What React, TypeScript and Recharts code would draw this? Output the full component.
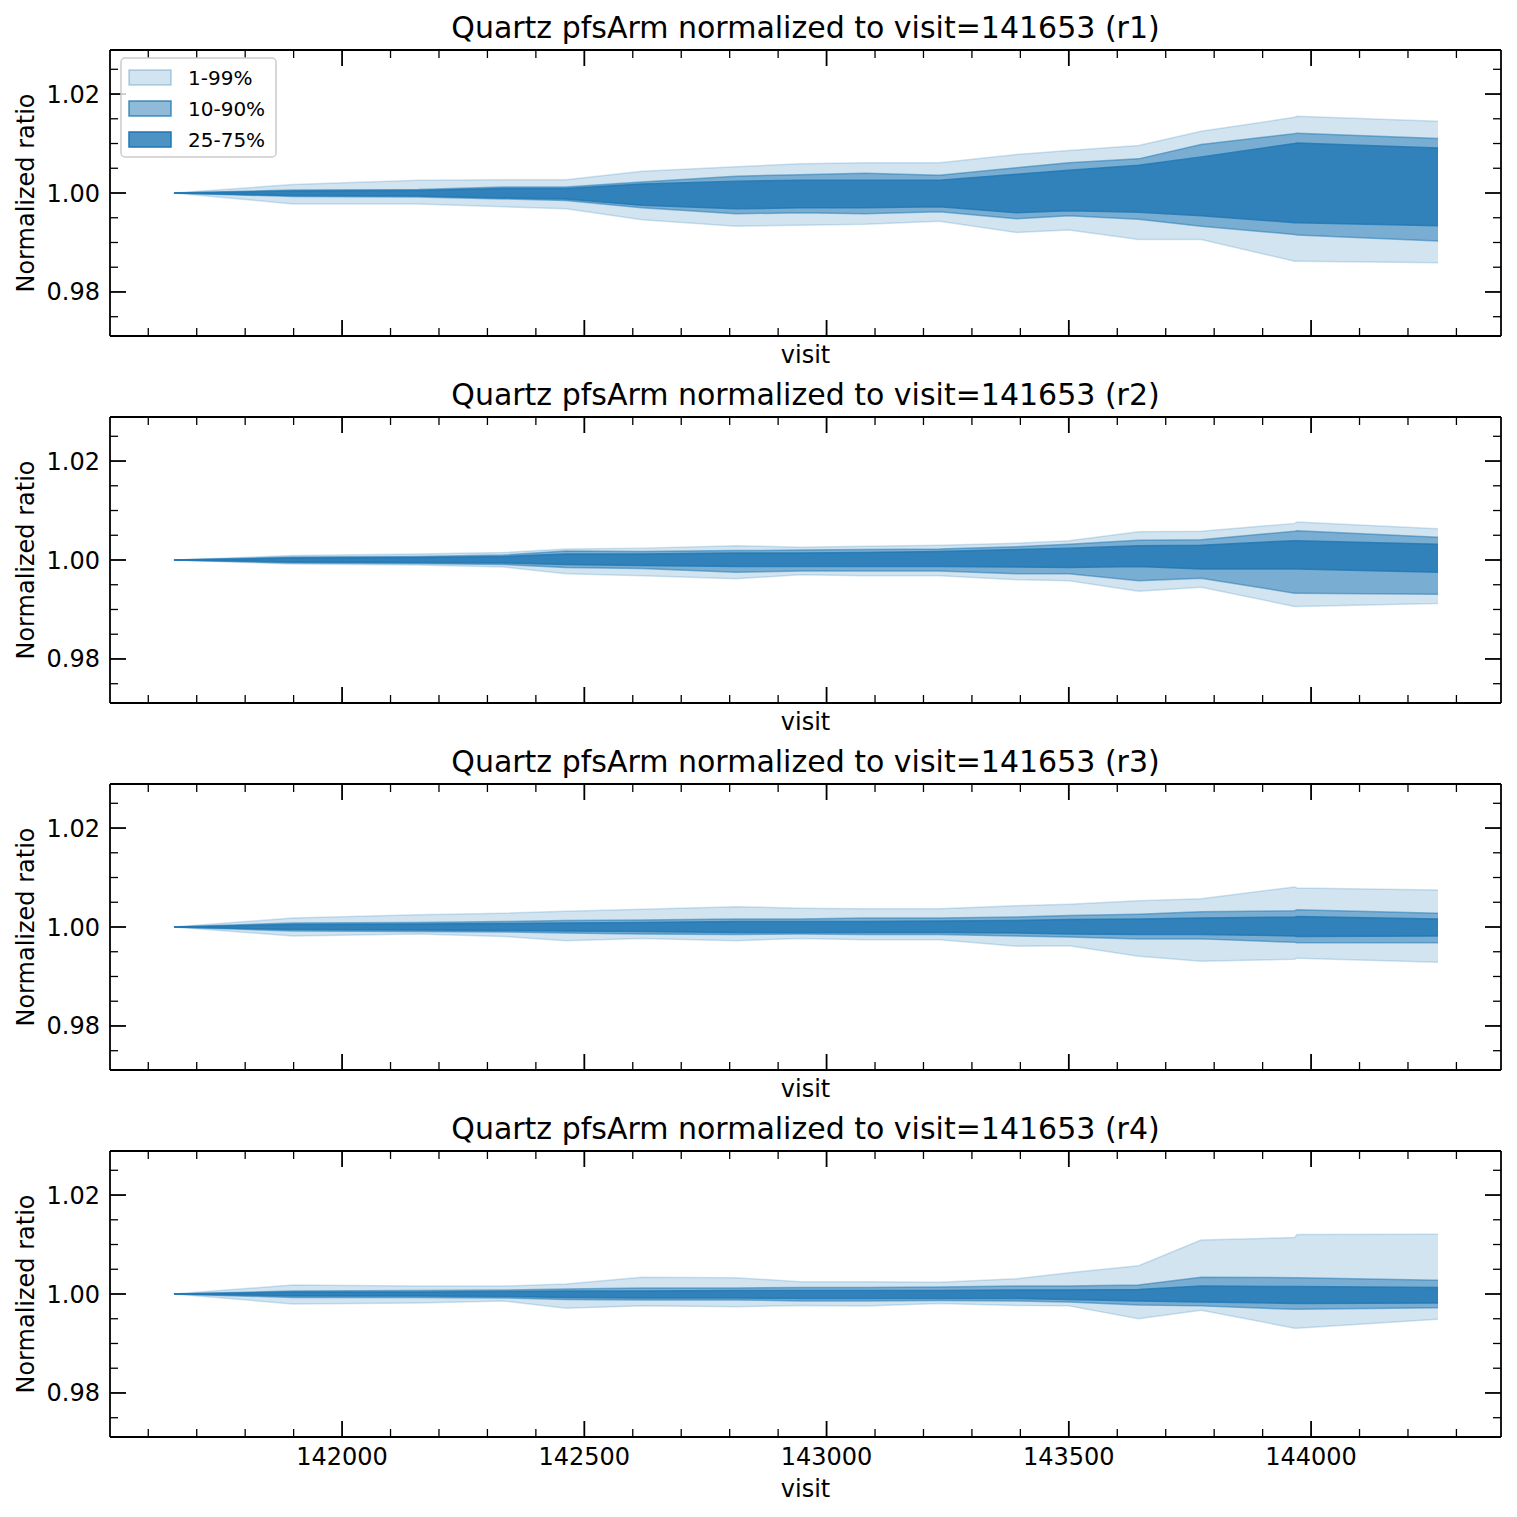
import React from "react";
import { Area, ComposedChart, XAxis, YAxis } from "recharts";

// visits along the x axis
const visits = [
  141653, 141898, 142157, 142333, 142462, 142619, 142813, 142946, 143079,
  143233, 143392, 143500, 143644, 143773, 143966, 143971, 144262,
];

// r1 percentiles
const r1P01 = [1.0, 0.9978, 0.9978, 0.9972, 0.9968, 0.9946, 0.9933, 0.9935, 0.9937, 0.9943, 0.992, 0.9925, 0.9906, 0.9906, 0.9862, 0.9862, 0.9859];
const r1P10 = [1.0, 0.9993, 0.9992, 0.9988, 0.9985, 0.997, 0.9958, 0.996, 0.9958, 0.9962, 0.9948, 0.9954, 0.9947, 0.9933, 0.9916, 0.9915, 0.9903];
const r1P25 = [1.0, 0.9995, 0.9994, 0.999, 0.9988, 0.9975, 0.9968, 0.997, 0.997, 0.9972, 0.996, 0.9964, 0.9961, 0.9954, 0.994, 0.994, 0.9934];
const r1P75 = [1.0, 1.0004, 1.0005, 1.0009, 1.0009, 1.0018, 1.0024, 1.0026, 1.0026, 1.0026, 1.0038, 1.0046, 1.0056, 1.0073, 1.01, 1.0101, 1.0091];
const r1P90 = [1.0, 1.0006, 1.0007, 1.0012, 1.0012, 1.0022, 1.0034, 1.0037, 1.004, 1.0036, 1.0051, 1.0061, 1.0069, 1.0098, 1.012, 1.0121, 1.011];
const r1P99 = [1.0, 1.0017, 1.0026, 1.0027, 1.0027, 1.0044, 1.0053, 1.0059, 1.0061, 1.0061, 1.0078, 1.0086, 1.0096, 1.0125, 1.0153, 1.0155, 1.0145];

// r2 percentiles
const r2P01 = [1.0, 0.9992, 0.999, 0.9986, 0.9972, 0.9968, 0.9962, 0.997, 0.9968, 0.9968, 0.996, 0.9958, 0.9937, 0.9945, 0.9906, 0.9906, 0.9912];
const r2P10 = [1.0, 0.9994, 0.9993, 0.9991, 0.9985, 0.9983, 0.9975, 0.9978, 0.9978, 0.9978, 0.9972, 0.9972, 0.9958, 0.9963, 0.9933, 0.9933, 0.9931];
const r2P25 = [1.0, 0.9996, 0.9995, 0.9994, 0.9991, 0.9989, 0.9987, 0.9987, 0.9987, 0.9987, 0.9986, 0.9985, 0.9987, 0.9982, 0.9982, 0.9982, 0.9975];
const r2P75 = [1.0, 1.0004, 1.0005, 1.0007, 1.0012, 1.0012, 1.0014, 1.0014, 1.0015, 1.0017, 1.0021, 1.0024, 1.0029, 1.003, 1.0039, 1.0039, 1.0032];
const r2P90 = [1.0, 1.0006, 1.0007, 1.001, 1.0018, 1.0017, 1.0019, 1.002, 1.0021, 1.0022, 1.0027, 1.0032, 1.004, 1.0041, 1.0058, 1.0059, 1.0046];
const r2P99 = [1.0, 1.0009, 1.0012, 1.0015, 1.0022, 1.0024, 1.0029, 1.0026, 1.0028, 1.003, 1.0034, 1.0039, 1.0057, 1.0058, 1.0074, 1.0077, 1.0063];

// r3 percentiles
const r3P01 = [1.0, 0.9982, 0.9986, 0.9981, 0.9972, 0.9977, 0.9972, 0.9977, 0.9974, 0.9974, 0.9961, 0.9962, 0.9941, 0.9931, 0.9935, 0.9937, 0.9929];
const r3P10 = [1.0, 0.9992, 0.9991, 0.999, 0.9988, 0.9986, 0.9985, 0.9986, 0.9985, 0.9985, 0.9982, 0.998, 0.9976, 0.9976, 0.9969, 0.9968, 0.9968];
const r3P25 = [1.0, 0.9995, 0.9994, 0.9993, 0.9992, 0.9991, 0.9989, 0.9989, 0.9989, 0.9989, 0.9988, 0.9986, 0.9985, 0.9985, 0.9982, 0.9981, 0.9982];
const r3P75 = [1.0, 1.0005, 1.0006, 1.0007, 1.0008, 1.0009, 1.0011, 1.0011, 1.0011, 1.0012, 1.0013, 1.0015, 1.0016, 1.0018, 1.002, 1.0021, 1.0016];
const r3P90 = [1.0, 1.0008, 1.0009, 1.0011, 1.0013, 1.0014, 1.0016, 1.0016, 1.0018, 1.0018, 1.002, 1.0023, 1.0026, 1.0031, 1.0033, 1.0035, 1.0028];
const r3P99 = [1.0, 1.0018, 1.0025, 1.0028, 1.0032, 1.0036, 1.0041, 1.0038, 1.0037, 1.0037, 1.0043, 1.0046, 1.0053, 1.0057, 1.0081, 1.0079, 1.0075];

// r4 percentiles
const r4P01 = [1.0, 0.998, 0.9982, 0.9986, 0.9971, 0.9976, 0.9974, 0.9977, 0.9976, 0.9981, 0.9977, 0.9976, 0.995, 0.9967, 0.9931, 0.9931, 0.9949];
const r4P10 = [1.0, 0.9993, 0.9993, 0.9992, 0.9989, 0.9988, 0.9988, 0.9986, 0.9986, 0.9987, 0.9986, 0.9984, 0.9978, 0.9976, 0.9969, 0.9969, 0.9972];
const r4P25 = [1.0, 0.9996, 0.9996, 0.9995, 0.9993, 0.9992, 0.9992, 0.9991, 0.9991, 0.9991, 0.9991, 0.9989, 0.9986, 0.9984, 0.9981, 0.9981, 0.9982];
const r4P75 = [1.0, 1.0004, 1.0004, 1.0005, 1.0006, 1.0006, 1.0007, 1.0007, 1.0007, 1.0007, 1.0008, 1.0008, 1.0009, 1.0016, 1.0015, 1.0015, 1.0013];
const r4P90 = [1.0, 1.0006, 1.0007, 1.0008, 1.001, 1.0012, 1.0012, 1.0013, 1.0013, 1.0014, 1.0016, 1.0016, 1.0018, 1.0034, 1.0033, 1.0033, 1.0028];
const r4P99 = [1.0, 1.0018, 1.0016, 1.0016, 1.002, 1.0034, 1.0033, 1.0025, 1.0025, 1.0024, 1.0031, 1.0043, 1.0057, 1.0109, 1.0114, 1.012, 1.0121];

const armNames = ["r1", "r2", "r3", "r4"];
const bandLabels = ["1-99%", "10-90%", "25-75%"];

// ticks: majors every 500 / 0.02, minors every 100 / 0.005
const xTicks = [
  141600, 141700, 141800, 141900, 142000, 142100, 142200, 142300, 142400,
  142500, 142600, 142700, 142800, 142900, 143000, 143100, 143200, 143300,
  143400, 143500, 143600, 143700, 143800, 143900, 144000, 144100, 144200,
  144300,
];
const yTicks = [0.975, 0.98, 0.985, 0.99, 0.995, 1.0, 1.005, 1.01, 1.015, 1.02, 1.025];

const panels = [
  [r1P01, r1P10, r1P25, r1P75, r1P90, r1P99],
  [r2P01, r2P10, r2P25, r2P75, r2P90, r2P99],
  [r3P01, r3P10, r3P25, r3P75, r3P90, r3P99],
  [r4P01, r4P10, r4P25, r4P75, r4P90, r4P99],
];

const BLUE = "#1f77b4";
const FONT = "DejaVu Sans, sans-serif";
const W = 1517;
const PLOT_TOP = 50;
const PLOT_H = 286;
const STEP = 367;
const LEFT = 110;
const RIGHT = 1501;
const X_DOMAIN = [141521, 144392];
const Y_DOMAIN = [0.9711, 1.0289];
const alphas = [0.2, 0.5, 0.8];

const isMajorX = (v: number) => v % 500 === 0;
const isMajorY = (v: number) => Math.round(v * 1000) % 20 === 0;

const makeXTick = (side: "top" | "bottom", labels: boolean) => (props: any) => {
  const { x, y, payload } = props;
  const major = isMajorX(payload.value);
  const len = major ? 16 : 8;
  const dir = side === "bottom" ? -1 : 1;
  return (
    <g>
      <line x1={x} x2={x} y1={y} y2={y + dir * len} stroke="#000" strokeWidth={major ? 1.8 : 1.3} />
      {labels && major && (
        <text x={x} y={y + 28} textAnchor="middle" fontSize={24} fontFamily={FONT} fill="#000">
          {payload.value}
        </text>
      )}
    </g>
  );
};

const makeYTick = (side: "left" | "right") => (props: any) => {
  const { x, y, payload } = props;
  const major = isMajorY(payload.value);
  const len = major ? 16 : 8;
  const dir = side === "left" ? 1 : -1;
  return (
    <g>
      <line x1={x} x2={x + dir * len} y1={y} y2={y} stroke="#000" strokeWidth={major ? 1.8 : 1.3} />
      {side === "left" && major && (
        <text x={x - 10} y={y + 8.5} textAnchor="end" fontSize={24} fontFamily={FONT} fill="#000">
          {payload.value.toFixed(2)}
        </text>
      )}
    </g>
  );
};

const Panel = ({ index }: { index: number }) => {
  const [p01, p10, p25, p75, p90, p99] = panels[index];
  const data = visits.map((visit, i) => ({
    visit,
    outer: [p01[i], p99[i]],
    mid: [p10[i], p90[i]],
    inner: [p25[i], p75[i]],
  }));
  const last = index === panels.length - 1;
  const height = last ? W - STEP * index : STEP;
  const axisLine = { stroke: "#000", strokeWidth: 1.8 };
  // every axis is 1px thick, so the margins leave that pixel out
  return (
    <div style={{ position: "absolute", left: 0, top: STEP * index }}>
      <ComposedChart
        width={W}
        height={height}
        data={data}
        margin={{
          top: PLOT_TOP - 1,
          left: LEFT - 1,
          right: W - RIGHT - 1,
          bottom: height - PLOT_TOP - PLOT_H - 1,
        }}
      >
        <XAxis
          dataKey="visit"
          type="number"
          domain={X_DOMAIN}
          allowDataOverflow
          ticks={xTicks}
          interval={0}
          height={1}
          tickSize={0}
          tickMargin={0}
          tickLine={false}
          axisLine={axisLine}
          tick={makeXTick("bottom", last)}
        />
        <XAxis
          xAxisId="top"
          orientation="top"
          dataKey="visit"
          type="number"
          domain={X_DOMAIN}
          allowDataOverflow
          ticks={xTicks}
          interval={0}
          height={1}
          tickSize={0}
          tickMargin={0}
          tickLine={false}
          axisLine={axisLine}
          tick={makeXTick("top", false)}
        />
        <YAxis
          type="number"
          domain={Y_DOMAIN}
          allowDataOverflow
          ticks={yTicks}
          interval={0}
          width={1}
          tickSize={0}
          tickMargin={0}
          tickLine={false}
          axisLine={axisLine}
          tick={makeYTick("left")}
        />
        <YAxis
          yAxisId="right"
          orientation="right"
          type="number"
          domain={Y_DOMAIN}
          allowDataOverflow
          ticks={yTicks}
          interval={0}
          width={1}
          tickSize={0}
          tickMargin={0}
          tickLine={false}
          axisLine={axisLine}
          tick={makeYTick("right")}
        />
        {["outer", "mid", "inner"].map((key, k) => (
          <Area
            key={key}
            type="linear"
            dataKey={key}
            fill={BLUE}
            fillOpacity={alphas[k]}
            stroke={BLUE}
            strokeOpacity={alphas[k]}
            strokeWidth={1.5}
            dot={false}
            activeDot={false}
            isAnimationActive={false}
          />
        ))}
      </ComposedChart>
    </div>
  );
};

const Overlay = () => {
  const cx = (LEFT + RIGHT) / 2;
  return (
    <svg
      width={W}
      height={W}
      style={{ position: "absolute", left: 0, top: 0, pointerEvents: "none" }}
      fontFamily={FONT}
    >
      {armNames.map((arm, k) => {
        const top = PLOT_TOP + STEP * k;
        const bottom = top + PLOT_H;
        const last = k === armNames.length - 1;
        return (
          <g key={arm}>
            <text x={cx} y={top - 12} textAnchor="middle" fontSize={30} fill="#000">
              {`Quartz pfsArm normalized to visit=141653 (${arm})`}
            </text>
            <text
              x={34}
              y={top + PLOT_H / 2}
              textAnchor="middle"
              fontSize={24}
              fill="#000"
              transform={`rotate(-90 34 ${top + PLOT_H / 2})`}
            >
              Normalized ratio
            </text>
            <text x={cx} y={bottom + (last ? 60 : 27)} textAnchor="middle" fontSize={24} fill="#000">
              visit
            </text>
          </g>
        );
      })}
      <rect x={121} y={58} width={155} height={99} rx={4} fill="#fff" fillOpacity={0.8} stroke="#cccccc" strokeWidth={1.5} />
      {bandLabels.map((label, k) => (
        <g key={label}>
          <rect
            x={129}
            y={70 + 31 * k}
            width={42}
            height={15}
            fill={BLUE}
            fillOpacity={alphas[k]}
            stroke={BLUE}
            strokeOpacity={Math.min(1, alphas[k] * 1.6)}
            strokeWidth={1.5}
          />
          <text x={188} y={85 + 31 * k} fontSize={20} fill="#000">
            {label}
          </text>
        </g>
      ))}
    </svg>
  );
};

export default function App() {
  return (
    <div style={{ position: "absolute", left: 0, top: 0, width: W, height: W, background: "#fff" }}>
      {panels.map((_, i) => (
        <Panel key={i} index={i} />
      ))}
      <Overlay />
    </div>
  );
}
